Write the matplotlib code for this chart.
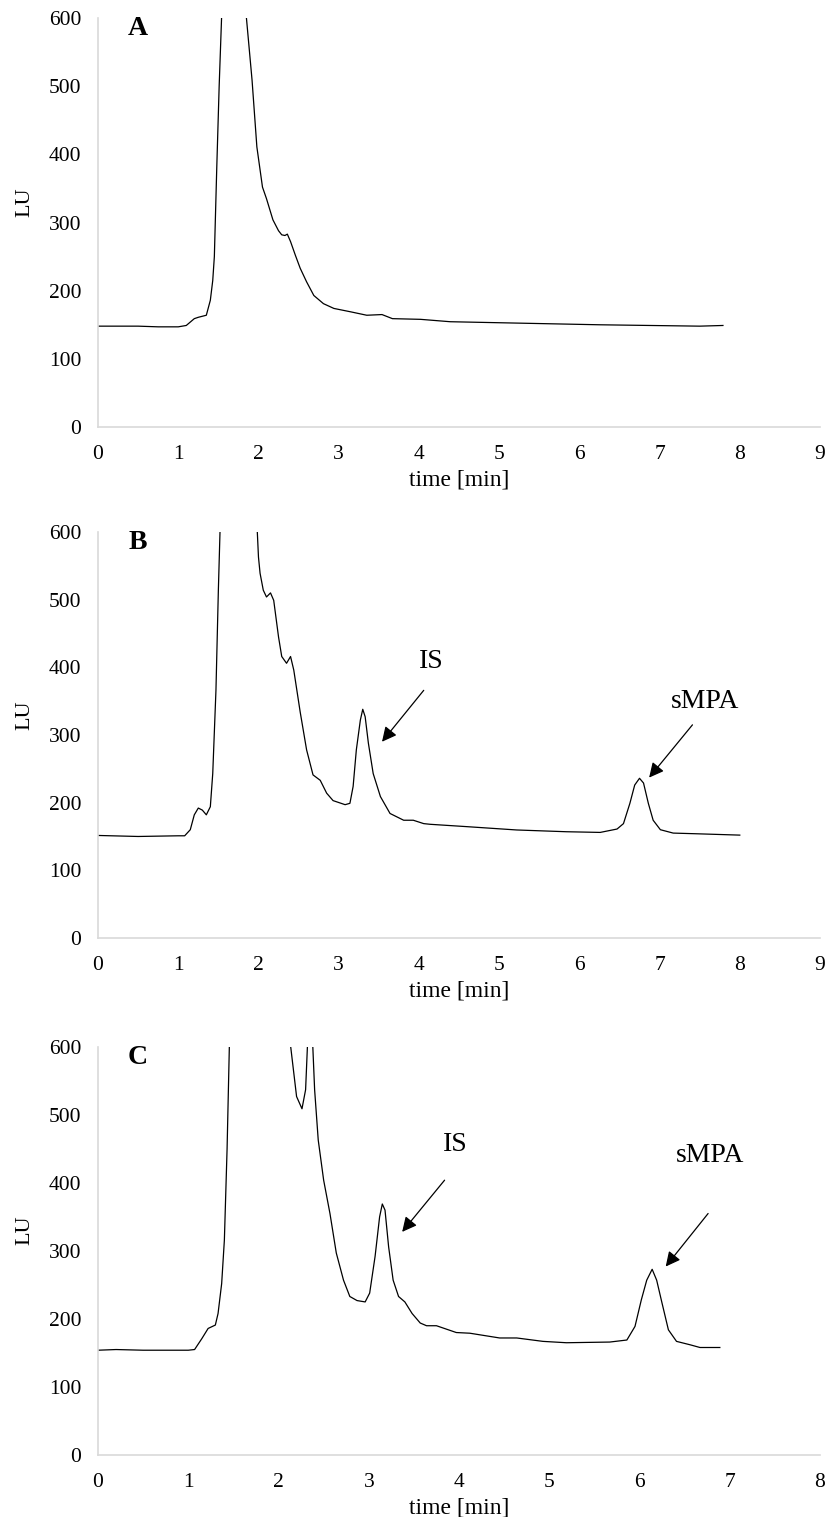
import matplotlib
matplotlib.use("Agg")
import matplotlib.pyplot as plt

plt.rcParams['font.family'] = ['Liberation Serif', 'DejaVu Serif']

# chromatogram A (blank)
t_a = [0, 0.25, 0.5, 0.75, 1.0, 1.1, 1.2, 1.25, 1.35, 1.4, 1.43, 1.45, 1.48, 1.51,
       1.54, 1.6, 1.7, 1.8, 1.85, 1.92, 1.98, 2.05, 2.10, 2.18, 2.25, 2.29, 2.33,
       2.36, 2.40, 2.46, 2.52, 2.60, 2.69, 2.81, 2.94, 3.15, 3.35, 3.54, 3.67, 4.02,
       4.39, 5.01, 5.63, 6.26, 6.88, 7.50, 7.79]
lu_a = [148, 148, 148, 147, 147, 149, 159, 161, 164, 186, 215, 250, 380, 500,
        600, 900, 1100, 900, 600, 509, 411, 352, 335, 304, 288, 282, 281,
        283, 272, 252, 233, 213, 193, 181, 174, 169, 164, 165, 159, 158,
        154.5, 153, 151.5, 150, 149, 148, 149]

# chromatogram B
t_b = [0, 0.5, 1.0, 1.08, 1.15, 1.2, 1.25, 1.3, 1.35, 1.4, 1.43, 1.47, 1.50, 1.53,
       1.6, 1.75, 1.9, 1.97, 2.0, 2.02, 2.06, 2.10, 2.15, 2.19, 2.25, 2.29, 2.35,
       2.40, 2.44, 2.52, 2.60, 2.68, 2.77, 2.85, 2.93, 3.08, 3.14, 3.18, 3.22, 3.27,
       3.30, 3.33, 3.37, 3.43, 3.52, 3.64, 3.81, 3.93, 4.06, 4.14, 4.60, 5.22, 5.84,
       6.26, 6.47, 6.55, 6.63, 6.69, 6.75, 6.80, 6.86, 6.92, 7.01, 7.17, 7.46, 8.00]
lu_b = [151.5, 150, 151, 151, 160, 182, 192, 189, 182, 194, 243, 366, 514, 640,
        1000, 1300, 1000, 640, 563, 539, 514, 504, 510, 499, 445, 416, 406,
        416, 396, 334, 278, 241, 233, 214, 203, 197, 199, 224, 278, 322,
        338, 327, 288, 243, 209, 184, 174, 174, 169, 168, 164.5, 159.6, 157,
        156, 161, 169, 199, 226, 236, 229, 199, 174, 160, 155, 154, 152]

# chromatogram C
t_c = [0, 0.2, 0.5, 1.0, 1.07, 1.15, 1.22, 1.3, 1.33, 1.37, 1.40, 1.43, 1.455, 1.55,
       1.8, 2.05, 2.135, 2.20, 2.26, 2.30, 2.32, 2.35, 2.38, 2.40, 2.44, 2.50, 2.57,
       2.64, 2.72, 2.79, 2.87, 2.96, 3.01, 3.07, 3.12, 3.15, 3.18, 3.22, 3.27, 3.33,
       3.40, 3.48, 3.57, 3.64, 3.75, 3.97, 4.12, 4.45, 4.64, 4.93, 5.19, 5.67, 5.86,
       5.95, 6.02, 6.08, 6.14, 6.19, 6.25, 6.32, 6.41, 6.56, 6.67, 6.89]
lu_c = [154, 155, 154, 154, 155, 171, 186, 191, 208, 252, 316, 450, 600, 1000,
        1400, 1000, 600, 527, 509, 537, 600, 680, 600, 537, 463, 404, 355,
        297, 257, 233, 227, 225, 238, 292, 350, 369, 360, 306, 257, 233,
        225, 208, 194, 190, 190, 180, 179, 172, 172, 167, 165, 166, 169,
        189, 228, 257, 273, 257, 223, 184, 167, 162, 158, 158]

panels = [
    ("A", t_a, lu_a, 9, []),
    ("B", t_b, lu_b, 9, [("IS", (4.15, 409), (4.06, 366), (3.54, 290)),
                         ("sMPA", (7.57, 350), (7.41, 315), (6.87, 237))]),
    ("C", t_c, lu_c, 8, [("IS", (3.96, 457), (3.84, 404), (3.37, 328)),
                         ("sMPA", (6.78, 440), (6.76, 355), (6.29, 277))]),
]

# axes boxes in figure fraction [left, bottom, width, height]
boxes = [[0.1167, 0.7185, 0.8595, 0.2696],
         [0.1167, 0.3817, 0.8595, 0.2676],
         [0.1167, 0.0409, 0.8595, 0.2690]]

fig = plt.figure(figsize=(8.4, 15.17), dpi=100)

for box, (letter, t, lu, xmax, notes) in zip(boxes, panels):
    ax = fig.add_axes(box)
    ax.plot(t, lu, color="black", lw=0.9, solid_joinstyle="round")
    ax.set_xlim(0, xmax)
    ax.set_ylim(0, 600)
    ax.set_xticks(range(0, xmax + 1))
    ax.set_yticks(range(0, 601, 100))
    for s in ["top", "right"]:
        ax.spines[s].set_visible(False)
    for s in ["left", "bottom"]:
        ax.spines[s].set_color("#d9d9d9")
        ax.spines[s].set_linewidth(1.2)
    ax.tick_params(length=0, labelsize=15.5)
    ax.tick_params(axis="x", pad=13)
    ax.tick_params(axis="y", pad=12)
    ax.set_xlabel("time [min]", fontsize=17, labelpad=4)
    ax.set_ylabel("LU", fontsize=16)
    ax.yaxis.set_label_coords(-0.088, 0.55)
    ax.text(0.055, 0.975, letter, transform=ax.transAxes, fontsize=20,
            fontweight="bold", ha="center", va="center")
    for label, txt_xy, start, end in notes:
        ax.text(txt_xy[0], txt_xy[1], label, fontsize=20, ha="center", va="center")
        ax.annotate("", xy=end, xytext=start,
                    arrowprops=dict(arrowstyle="-|>", color="black", lw=0.9,
                                    mutation_scale=22, shrinkA=0, shrinkB=0))

plt.savefig("out.png", dpi=100)
